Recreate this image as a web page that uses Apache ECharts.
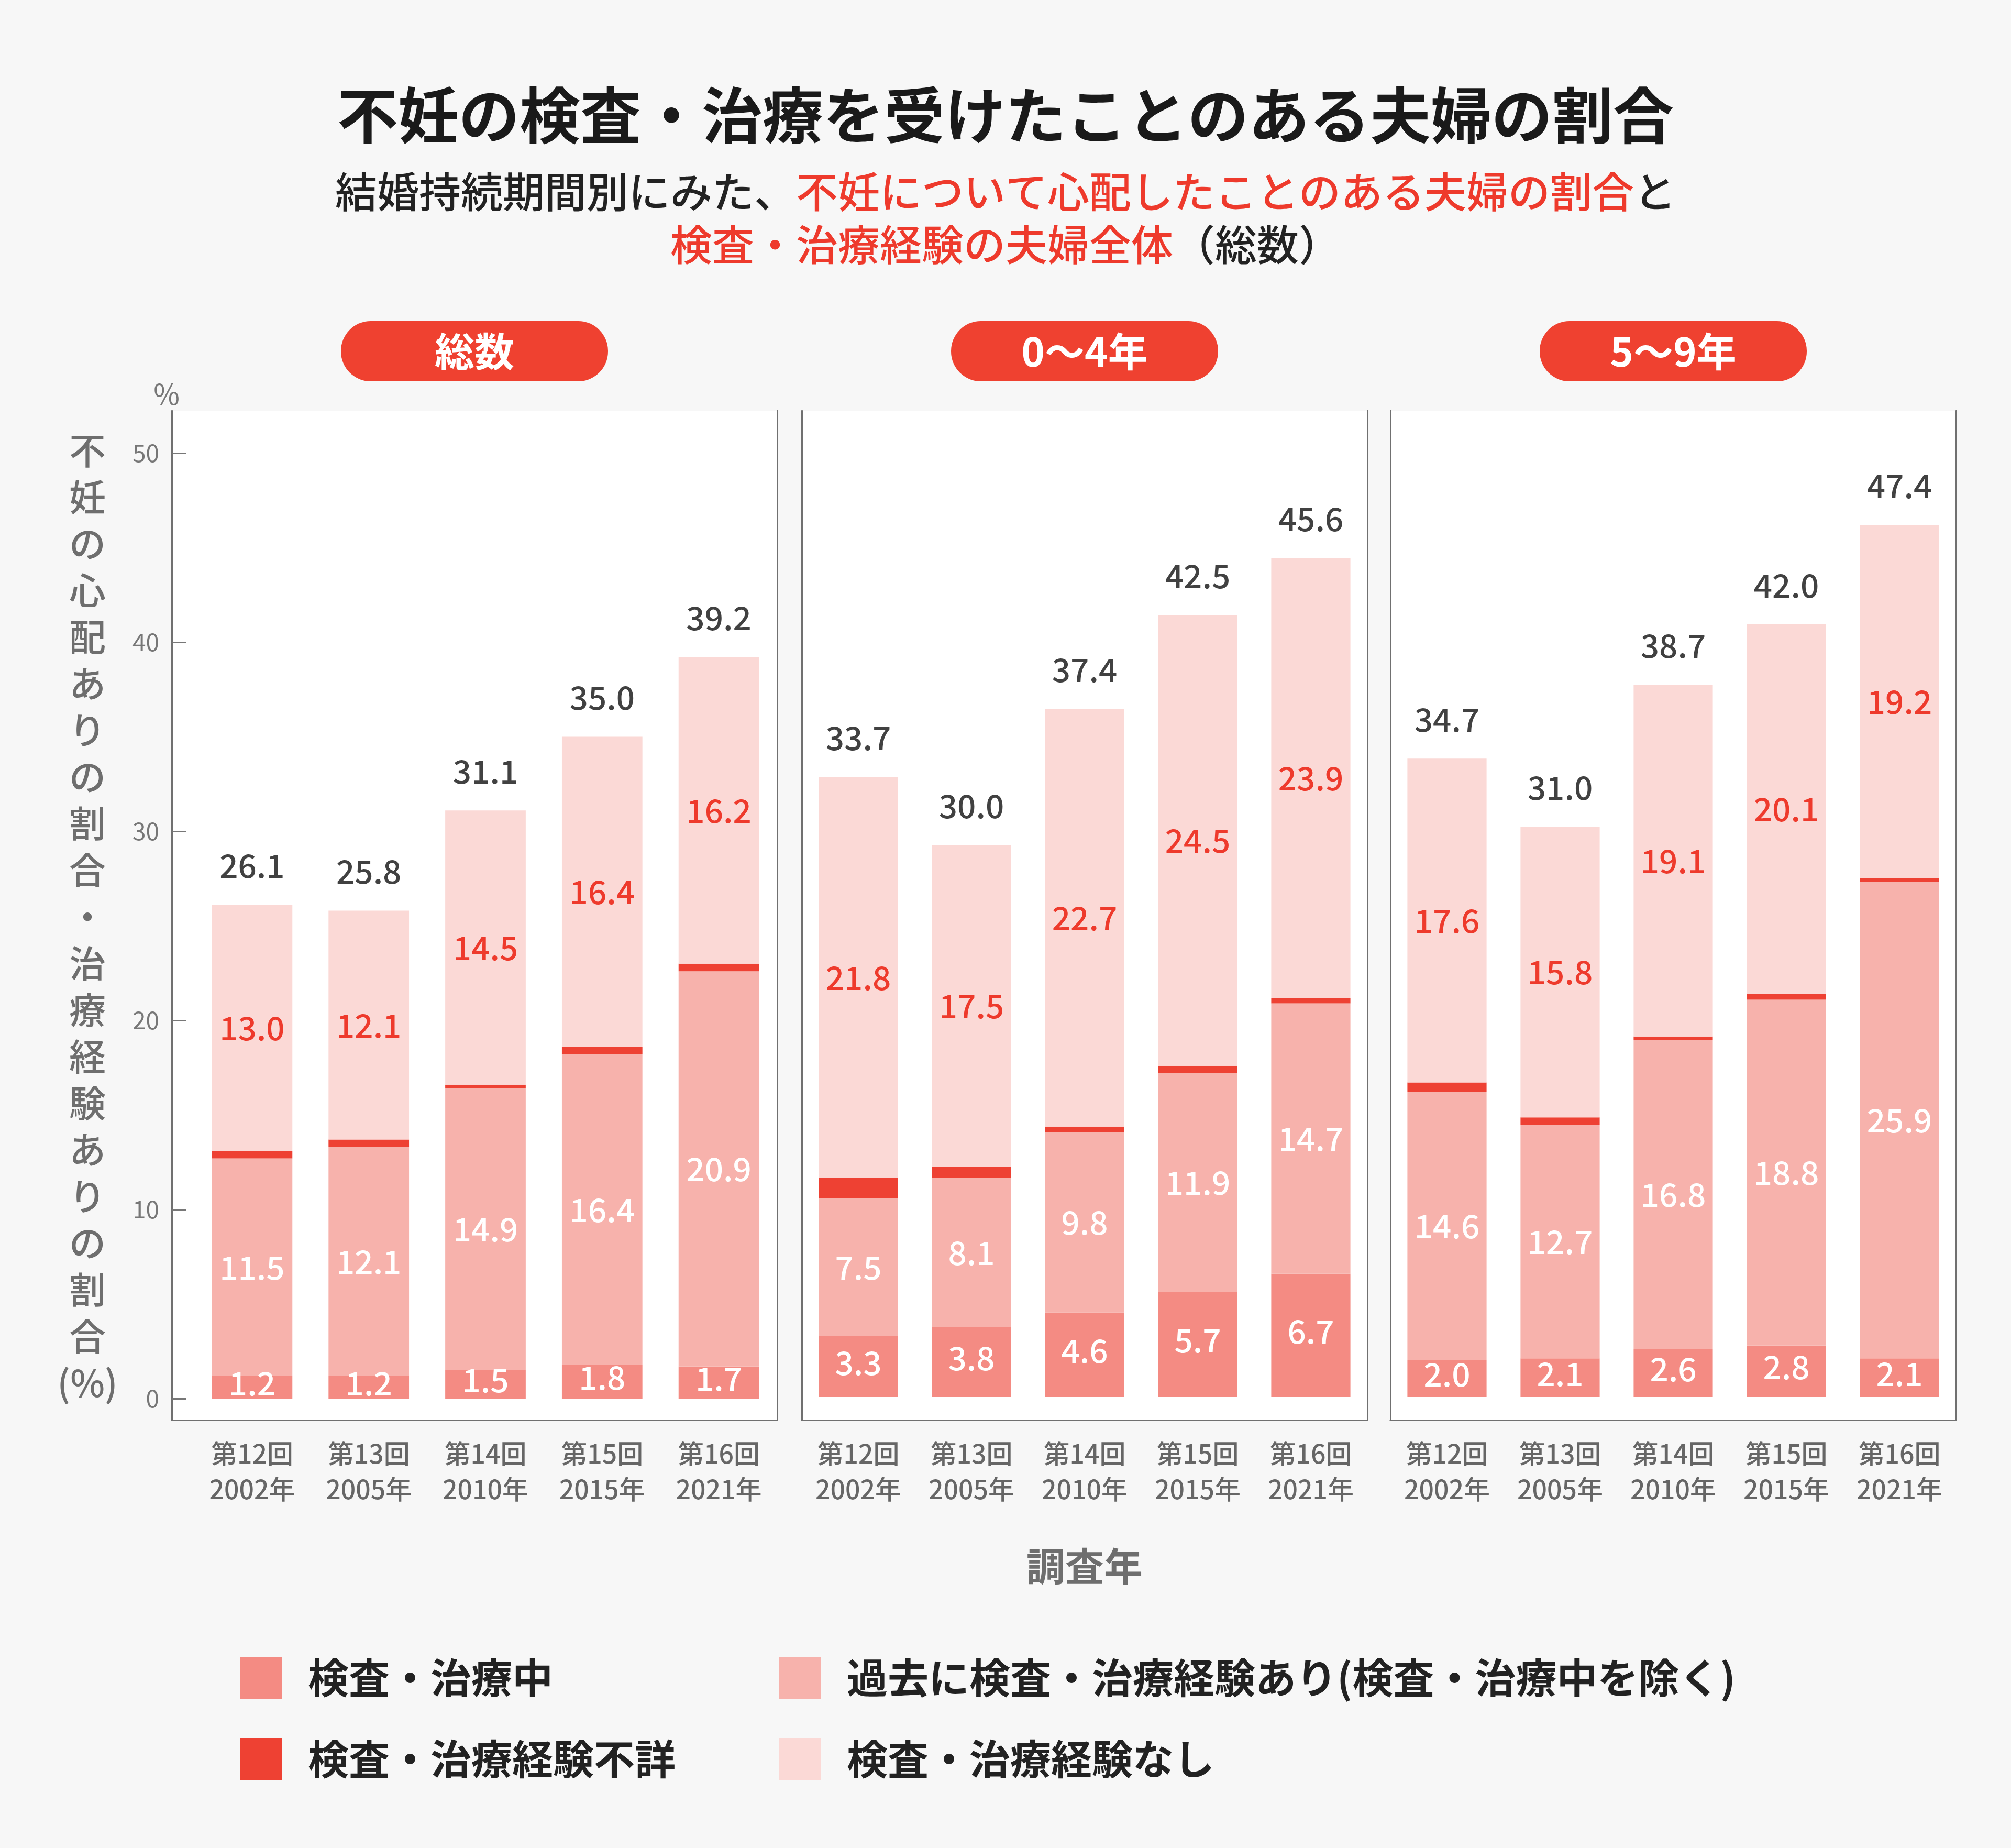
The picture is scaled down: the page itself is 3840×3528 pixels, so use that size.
<!DOCTYPE html>
<html>
<head>
<meta charset="utf-8">
<script src="https://cdn.jsdelivr.net/npm/echarts@6/dist/echarts.min.js"></script>
<style>
html,body{margin:0;padding:0;background:#f7f7f7;}
#chart{width:3840px;height:3528px;}
</style>
</head>
<body>
<div id="chart"></div>
<script>
// ---------------- data ----------------
const panelNames = ['総数', '0～4年', '5～9年'];
const surveyRounds = ['第12回', '第13回', '第14回', '第15回', '第16回'];
const surveyYears = ['2002年', '2005年', '2010年', '2015年', '2021年'];
const seriesNames = ['検査・治療中', '過去に検査・治療経験あり(検査・治療中を除く)', '検査・治療経験不詳', '検査・治療経験なし'];
// each list: [総数, 0～4年, 5～9年]
const inTreatment = [[1.2, 1.2, 1.5, 1.8, 1.7], [3.3, 3.8, 4.6, 5.7, 6.7], [2.0, 2.1, 2.6, 2.8, 2.1]];
const pastTreatment = [[11.5, 12.1, 14.9, 16.4, 20.9], [7.5, 8.1, 9.8, 11.9, 14.7], [14.6, 12.7, 16.8, 18.8, 25.9]];
const unknownTreatment = [[0.4, 0.4, 0.2, 0.4, 0.4], [1.1, 0.6, 0.3, 0.4, 0.3], [0.5, 0.4, 0.2, 0.3, 0.2]];
const noTreatment = [[13.0, 12.1, 14.5, 16.4, 16.2], [21.8, 17.5, 22.7, 24.5, 23.9], [17.6, 15.8, 19.1, 20.1, 19.2]];
const totalWorried = [[26.1, 25.8, 31.1, 35.0, 39.2], [33.7, 30.0, 37.4, 42.5, 45.6], [34.7, 31.0, 38.7, 42.0, 47.4]];
const yTickMax = 50;
const yTickStep = 10;

const mainTitle = '不妊の検査・治療を受けたことのある夫婦の割合';
const subLine1 = ['結婚持続期間別にみた、', '不妊について心配したことのある夫婦の割合', 'と'];
const subLine2 = ['検査・治療経験の夫婦全体', '（総数）'];
const yTitle = '不妊の心配ありの割合・治療経験ありの割合';
const yTitleUnit = '(%)';
const xTitle = '調査年';

// ---------------- style / layout ----------------
const FONT = '"Noto Sans CJK JP","Noto Sans",sans-serif';
const FONT_MED = '"Noto Sans CJK JP Medium","Noto Sans CJK JP","Noto Sans",sans-serif';
const COLORS = ['#F48B83', '#F7B2AC', '#EE4133', '#FBD9D6'];
const RED = '#EE3A2C';
const PILL = '#EF4130';
const FRAME = '#707070';
const GRAY = '#6e6e6e';

const boxes = [{l: 328, r: 1484}, {l: 1531, r: 2611}, {l: 2655, r: 3735}];
const BOX_TOP = 784, BOX_BOTTOM = 2711;
const dataLeft = [370, 1531, 2655];
const zeroY = [2670, 2667, 2667];
const topY = [865, 911, 911];
const W = 3840, H = 3528;

const fmt = p => Number(p.value).toFixed(1);

const grid = [];
const xAxis = [];
const yAxis = [];
// background grids (white boxes with frame lines)
boxes.forEach((b, p) => {
  grid.push({left: b.l, right: W - b.r, top: BOX_TOP, bottom: H - BOX_BOTTOM, show: true,
    backgroundColor: '#ffffff', borderWidth: 0, outerBoundsMode: 'none'});
});
// data grids
boxes.forEach((b, p) => {
  grid.push({left: dataLeft[p], right: W - b.r, top: topY[p], bottom: H - zeroY[p], show: false,
    outerBoundsMode: 'none'});
});

const frameLine = {show: true, onZero: false, lineStyle: {color: FRAME, width: 3}};
boxes.forEach((b, p) => {
  xAxis.push({type: 'value', gridIndex: p, min: 0, max: 1, position: 'bottom', axisLine: frameLine,
    axisTick: {show: false}, axisLabel: {show: false}, splitLine: {show: false}});
});
boxes.forEach((b, p) => {
  xAxis.push({
    type: 'category', gridIndex: 3 + p, position: 'bottom',
    data: surveyRounds.map((r, i) => r + '\n' + surveyYears[i]),
    offset: BOX_BOTTOM - zeroY[p],
    axisLine: {show: false}, axisTick: {show: false},
    axisLabel: {interval: 0, margin: 30, fontSize: 50, lineHeight: 68, color: '#666', fontWeight: 'normal', fontFamily: FONT_MED},
    name: p === 1 ? xTitle : '', nameLocation: 'middle', nameGap: 242,
    nameTextStyle: {fontSize: 74, color: GRAY, fontWeight: 'bold', fontFamily: FONT}
  });
});
boxes.forEach((b, p) => {
  yAxis.push({type: 'value', gridIndex: p, min: 0, max: 1, position: 'left', axisLine: frameLine,
    axisTick: {show: false}, axisLabel: {show: false}, splitLine: {show: false}});
});
boxes.forEach((b, p) => {
  yAxis.push({type: 'value', gridIndex: p, min: 0, max: 1, position: 'right', axisLine: frameLine,
    axisTick: {show: false}, axisLabel: {show: false}, splitLine: {show: false}});
});
boxes.forEach((b, p) => {
  yAxis.push({
    type: 'value', gridIndex: 3 + p, min: 0, max: yTickMax, interval: yTickStep,
    show: p === 0, position: 'left', offset: dataLeft[p] - b.l,
    axisLine: {show: false},
    axisTick: {show: true, inside: true, length: 27, lineStyle: {color: '#777', width: 3}},
    axisLabel: {margin: 24, fontSize: 46, color: '#777', fontFamily: FONT},
    splitLine: {show: false},
    name: p === 0 ? '%' : '', nameLocation: 'end', nameGap: 86,
    nameTextStyle: {fontSize: 54, color: '#777', fontFamily: FONT, padding: [0, 20, 0, 0]}
  });
});

const series = [];
const segLabel = (color, weight, dy) => ({show: true, position: 'inside', color: color, fontSize: 62,
  fontWeight: weight, fontFamily: FONT_MED, formatter: fmt, offset: [0, dy]});
panelNames.forEach((pn, p) => {
  const common = {type: 'bar', xAxisIndex: 3 + p, yAxisIndex: 6 + p, stack: 'panel' + p,
    barWidth: p === 0 ? '69%' : '70%', emphasis: {disabled: true}};
  series.push(Object.assign({}, common, {name: seriesNames[0], data: inTreatment[p],
    itemStyle: {color: COLORS[0]}, label: segLabel('#ffffff', 'bold', -8)}));
  series.push(Object.assign({}, common, {name: seriesNames[1], data: pastTreatment[p],
    itemStyle: {color: COLORS[1]}, label: segLabel('#ffffff', 'bold', 0)}));
  series.push(Object.assign({}, common, {name: seriesNames[2], data: unknownTreatment[p],
    itemStyle: {color: COLORS[2]}, label: {show: false}}));
  series.push(Object.assign({}, common, {name: seriesNames[3], data: noTreatment[p],
    itemStyle: {color: COLORS[3]}, label: segLabel(RED, 'normal', 0)}));
  series.push({type: 'scatter', name: 'total-' + pn, xAxisIndex: 3 + p, yAxisIndex: 6 + p,
    data: totalWorried[p], symbolSize: 0, itemStyle: {color: 'transparent'}, silent: true, z: 5,
    label: {show: true, position: 'top', distance: 44, color: '#111', fontSize: 62, fontWeight: 'normal',
      fontFamily: FONT_MED, formatter: fmt}});
});

const legendText = {fontSize: 78, fontWeight: 'bold', color: '#222', fontFamily: FONT, padding: [0, 0, 0, 45]};
const legend = [
  {orient: 'vertical', left: 453, top: 3158, data: [seriesNames[0], seriesNames[2]], icon: 'rect',
    itemWidth: 80, itemHeight: 80, itemGap: 75, selectedMode: false, textStyle: legendText},
  {orient: 'vertical', left: 1482, top: 3158, data: [seriesNames[1], seriesNames[3]], icon: 'rect',
    itemWidth: 80, itemHeight: 80, itemGap: 75, selectedMode: false, textStyle: legendText}
];

const subStyle = color => ({color: color, fontSize: 80, lineHeight: 101, fontWeight: 'normal', fontFamily: FONT_MED});
const title = [
  {text: mainTitle, left: 'center', top: 162, padding: 0,
    textStyle: {fontSize: 116, lineHeight: 116, fontWeight: 'bold', color: '#1a1a1a', fontFamily: FONT}},
  {text: '{k|' + subLine1[0] + '}{r|' + subLine1[1] + '}{k|' + subLine1[2] + '}\n{r|' + subLine2[0] + '}{k|' + subLine2[1] + '}',
    left: 'center', top: 315, padding: 0,
    textStyle: {fontSize: 80, lineHeight: 101, color: '#222', fontFamily: FONT_MED,
      rich: {k: subStyle('#222'), r: subStyle(RED)}}}
];

const graphic = [];
panelNames.forEach((pn, p) => {
  const cx = (boxes[p].l + boxes[p].r) / 2;
  graphic.push({type: 'rect', shape: {x: cx - 255, y: 613, width: 510, height: 115, r: 57},
    style: {fill: PILL}, silent: true});
  graphic.push({type: 'text', x: cx, y: 671, silent: true,
    style: {text: pn, fill: '#ffffff', fontSize: 76, fontWeight: 'bold', fontFamily: FONT,
      align: 'center', verticalAlign: 'middle'}});
});
graphic.push({type: 'text', x: 167, y: 1750, silent: true,
  style: {text: Array.from(yTitle).join('\n') + '\n' + yTitleUnit, fill: GRAY, fontSize: 70, lineHeight: 89,
    fontWeight: 'normal', fontFamily: FONT_MED, align: 'center', verticalAlign: 'middle'}});

const chart = echarts.init(document.getElementById('chart'), null, {renderer: 'canvas'});
chart.setOption({
  backgroundColor: '#f7f7f7',
  animation: false,
  textStyle: {fontFamily: FONT},
  title, legend, grid, xAxis, yAxis, series, graphic
});
</script>
</body>
</html>
